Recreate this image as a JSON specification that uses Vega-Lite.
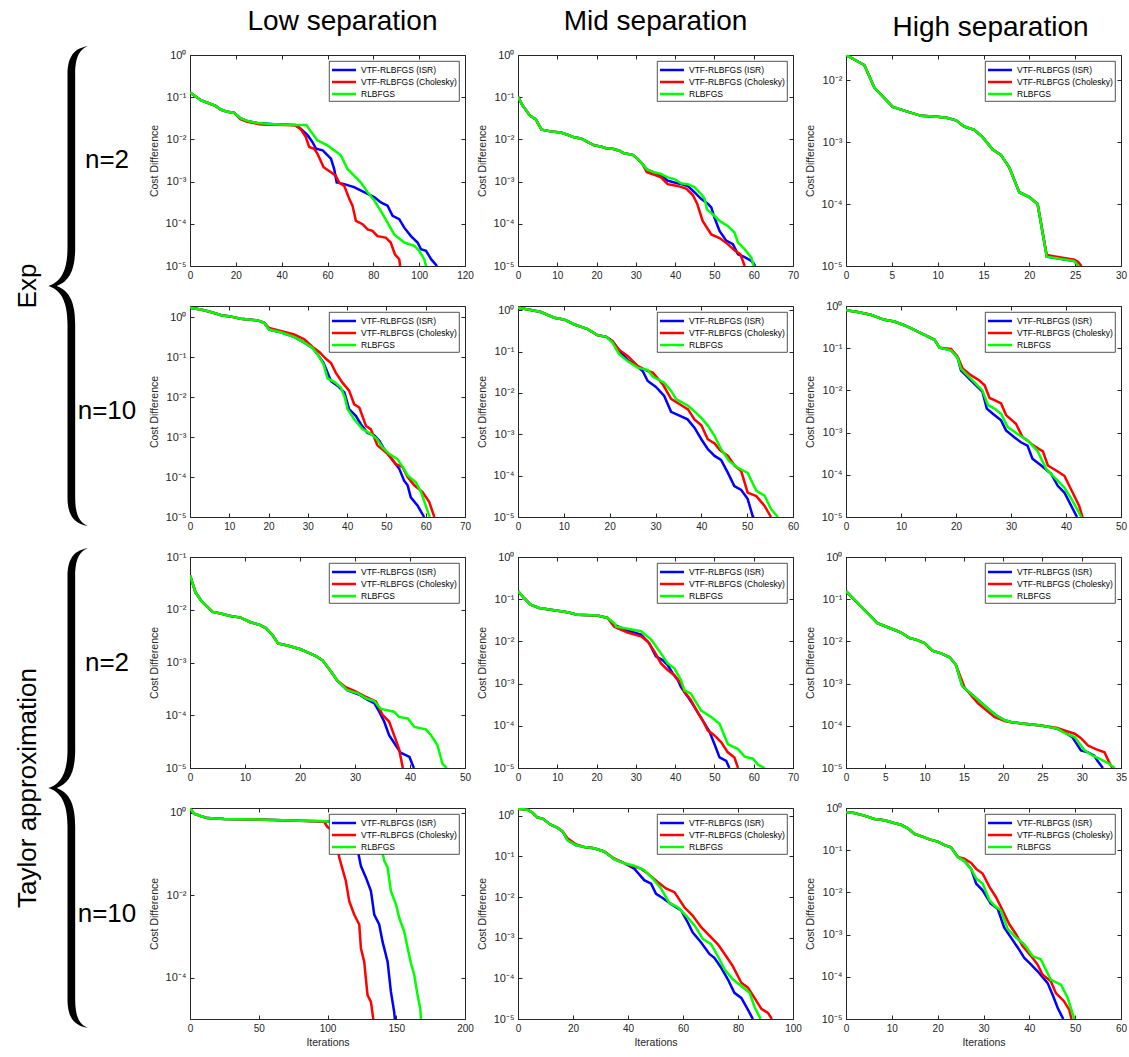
{
"$schema": "https://vega.github.io/schema/vega-lite/v6.json",
"padding": {"left": 0, "top": 7, "right": 4, "bottom": 4},
"spacing": 11,
"config": {
  "font": "Liberation Sans",
  "view": {"stroke": "#262626", "strokeWidth": 1},
  "axis": {"grid": false, "labelFont": "Liberation Sans", "labelFontSize": 10, "labelColor": "#262626", "domainColor": "#262626", "tickColor": "#262626", "tickSize": -4, "labelPadding": 8, "titleFont": "Liberation Sans", "titleFontSize": 10.5, "titleFontWeight": "normal", "titleColor": "#262626", "labelFlush": false, "labelOverlap": false},
  "axisY": {"titlePadding": 6, "labelFontSize": 11},
  "axisX": {"titlePadding": 4},
  "legend": {"orient": "top-right", "offset": 6, "padding": 2, "fillColor": "white", "strokeColor": "#262626", "strokeWidth": 0.8, "cornerRadius": 0, "symbolType": "M -1.09 0 L 3.27 0", "symbolStrokeWidth": 2.5, "symbolSize": 121, "labelFont": "Liberation Sans", "labelFontSize": 8.5, "labelColor": "#000000", "rowPadding": 0, "labelOffset": 16},
  "title": {"font": "Liberation Sans", "fontSize": 28, "fontWeight": "normal", "color": "#000000", "offset": 13}
},
"datasets": {
"labels": [
  {"kind": "row", "label": "n=2", "row": 0.5},
  {"kind": "row", "label": "n=10", "row": 1.5},
  {"kind": "row", "label": "n=2", "row": 2.5},
  {"kind": "row", "label": "n=10", "row": 3.5},
  {"kind": "group", "label": "Exp", "row": 1},
  {"kind": "group", "label": "Taylor approximation", "row": 3},
  {"kind": "brace", "label": "Exp", "row": 1},
  {"kind": "brace", "label": "Taylor approximation", "row": 3}
],
"r1c1": [
  {"m": "VTF-RLBFGS (ISR)", "it": [0,4.7,7.6,11.2,13.4,16.3,19.2,22,25,29.4,36.7,46,48.3,51.3,53.4,55,57.9,61.5,62.9,64,67.3,71.6,77.5,80.4,83.3,86.2,88.4,91.3,93.5,96.4,99.3,100.8,103,105.2,107.8],
   "v": [1.29e-1,8.5e-2,7.4e-2,6.2e-2,5.1e-2,4.5e-2,4.3e-2,3.2e-2,2.75e-2,2.45e-2,2.3e-2,2.2e-2,1.78e-2,1.26e-2,8.7e-3,6.0e-3,5.5e-3,3.5e-3,2.0e-3,9.5e-4,8.7e-4,7.4e-4,5.1e-4,4.3e-4,3.2e-4,2.7e-4,1.55e-4,1.29e-4,8.1e-5,5.1e-5,3.6e-5,2.5e-5,2.3e-5,1.45e-5,1e-5]},
  {"m": "VTF-RLBFGS (Cholesky)", "it": [0,4.7,7.6,11.2,13.4,16.3,19.2,22,25,30.9,46,48.3,50.5,52,54.2,55.6,58.3,61.5,63.6,65.1,67.3,69.5,70.9,72.4,75.3,77.5,79.6,81.8,85.4,87.6,89.4,91.3,91.7],
   "v": [1.29e-1,8.5e-2,7.4e-2,6.2e-2,5.1e-2,4.5e-2,4.3e-2,3.0e-2,2.6e-2,2.25e-2,2.15e-2,1.74e-2,1.15e-2,6.6e-3,6.0e-3,4.6e-3,2.2e-3,1.66e-3,1.38e-3,9.5e-4,7.9e-4,3.9e-4,2.7e-4,1.17e-4,9.8e-5,7.4e-5,6.8e-5,5.1e-5,4.7e-5,3.6e-5,1.9e-5,1.45e-5,1e-5]},
  {"m": "RLBFGS", "it": [0,4.7,7.6,11.2,13.4,16.3,19.2,22,25,29.4,36.7,44,50.8,52.7,55.6,60,62.9,65.8,68.7,71.6,74.6,77.5,80.4,83.3,86.2,89.1,93.5,97.9,100,102.2,103],
   "v": [1.29e-1,8.5e-2,7.4e-2,6.2e-2,5.1e-2,4.5e-2,4.3e-2,3.2e-2,2.75e-2,2.45e-2,2.3e-2,2.2e-2,2.2e-2,1.55e-2,9.5e-3,7.2e-3,5.5e-3,4.2e-3,2.0e-3,1.38e-3,9.5e-4,5.6e-4,3.55e-4,2.0e-4,1.07e-4,5.6e-5,3.6e-5,3.0e-5,2.3e-5,1.45e-5,1e-5]}
],
"r1c2": [
  {"m": "VTF-RLBFGS (ISR)", "it": [0,1.1,3.1,4.5,6,8.3,10.9,12.6,14.3,16,17.7,19.4,21.1,22.4,24.1,25.8,27,29.2,30.4,31.7,32.8,34.7,36.4,38.1,39.8,41.5,43.2,44.9,46.6,48.3,49.2,50,51.3,53,54.7,56,57.7,59.4,60.4],
   "v": [1.02e-1,6.5e-2,3.6e-2,3.0e-2,1.7e-2,1.55e-2,1.45e-2,1.29e-2,1.12e-2,1.05e-2,8.7e-3,7.2e-3,6.8e-3,6.2e-3,6.0e-3,5.4e-3,4.7e-3,4.3e-3,3.5e-3,2.6e-3,1.95e-3,1.62e-3,1.38e-3,1.05e-3,9.5e-4,8.7e-4,7.9e-4,5.6e-4,3.9e-4,3.0e-4,2.45e-4,1.41e-4,6.8e-5,4.0e-5,3.3e-5,1.9e-5,1.62e-5,1.32e-5,1e-5]},
  {"m": "VTF-RLBFGS (Cholesky)", "it": [0,1.1,3.1,4.5,6,8.3,10.9,12.6,14.3,16,17.7,19.4,21.1,22.4,24.1,25.8,27,29.2,30.4,31.7,32.8,34.7,36.4,38.1,40.6,42.8,44.5,45.6,47,49.2,51.3,53.4,55.1,56.6,57.7],
   "v": [1.02e-1,6.5e-2,3.6e-2,3.0e-2,1.7e-2,1.55e-2,1.45e-2,1.29e-2,1.12e-2,1.05e-2,8.7e-3,7.2e-3,6.8e-3,6.2e-3,6.0e-3,5.4e-3,4.7e-3,4.3e-3,3.5e-3,2.6e-3,1.66e-3,1.45e-3,1.26e-3,8.7e-4,7.9e-4,6.8e-4,4.8e-4,3.0e-4,1.17e-4,5.6e-5,4.6e-5,3.3e-5,2.35e-5,1.9e-5,1e-5]},
  {"m": "RLBFGS", "it": [0,1.1,3.1,4.5,6,8.3,10.9,12.6,14.3,16,17.7,19.4,21.1,22.4,24.1,25.8,27,29.2,30.4,31.7,32.8,34.7,36.4,38.1,39.8,41.5,43.2,44.9,46.6,47.5,48.1,50,51.3,53.4,55.1,56,57.7,59.4,60],
   "v": [1.02e-1,6.5e-2,3.6e-2,3.0e-2,1.7e-2,1.55e-2,1.45e-2,1.29e-2,1.12e-2,1.05e-2,8.7e-3,7.2e-3,6.8e-3,6.2e-3,6.0e-3,5.4e-3,4.7e-3,4.3e-3,3.5e-3,2.6e-3,1.95e-3,1.66e-3,1.51e-3,1.26e-3,1.15e-3,9.1e-4,8.7e-4,7.4e-4,5.1e-4,3.9e-4,2.2e-4,1.55e-4,1.17e-4,8.9e-5,6.2e-5,3.6e-5,2.5e-5,1.58e-5,1e-5]}
],
"r1c3": [
  {"m": "VTF-RLBFGS (ISR)", "it": [0,2,3.1,5.1,6.7,8.2,10,11.1,12,12.9,14,14.9,16,16.9,17.8,18.9,20,20.9,21.9,24.9,25.4],
   "v": [2.54e-2,1.75e-2,7.5e-3,3.7e-3,3.1e-3,2.65e-3,2.57e-3,2.45e-3,2.24e-3,1.78e-3,1.58e-3,1.2e-3,7.6e-4,6.2e-4,3.9e-4,1.55e-4,1.29e-4,1.0e-4,1.41e-5,1.2e-5,1e-5]},
  {"m": "VTF-RLBFGS (Cholesky)", "it": [0,2,3.1,5.1,6.7,8.2,10,11.1,12,12.9,14,14.9,16,16.9,17.8,18.9,20,20.9,21.9,24.9,25.3,25.7],
   "v": [2.54e-2,1.75e-2,7.5e-3,3.7e-3,3.1e-3,2.65e-3,2.57e-3,2.45e-3,2.24e-3,1.78e-3,1.58e-3,1.2e-3,7.6e-4,6.2e-4,3.9e-4,1.55e-4,1.29e-4,1.0e-4,1.5e-5,1.26e-5,1.17e-5,1e-5]},
  {"m": "RLBFGS", "it": [0,2,3.1,5.1,6.7,8.2,10,11.1,12,12.9,14,14.9,16,16.9,17.8,18.9,20,20.9,21.9,24.9,25.4],
   "v": [2.54e-2,1.75e-2,7.5e-3,3.7e-3,3.1e-3,2.65e-3,2.57e-3,2.45e-3,2.24e-3,1.78e-3,1.58e-3,1.2e-3,7.6e-4,6.2e-4,3.9e-4,1.55e-4,1.29e-4,1.0e-4,1.41e-5,1.2e-5,1e-5]}
],
"r2c1": [
  {"m": "VTF-RLBFGS (ISR)", "it": [0,2.7,5.3,8.2,9.9,12.9,17.2,18.9,20.1,23.1,26.5,29.1,31.2,32.5,34,35,35.9,37.6,39.3,40.5,42.2,43.5,45.2,46.9,48.2,49.4,50.7,52,53.3,54.5,55.4,56.2,57.9,59.6],
   "v": [1.71,1.55,1.35,1.1,1.06,0.91,0.83,0.72,0.49,0.42,0.32,0.23,0.17,0.117,7.2e-2,4.1e-2,2.5e-2,1.9e-2,1.3e-2,5.0e-3,3.4e-3,2.1e-3,1.26e-3,1.1e-3,8.1e-4,5.0e-4,3.5e-4,2.35e-4,1.58e-4,8.1e-5,6.2e-5,3.1e-5,1.95e-5,1e-5]},
  {"m": "VTF-RLBFGS (Cholesky)", "it": [0,2.7,5.3,8.2,9.9,12.9,17.2,18.9,20.1,23.1,26.5,29.1,31.2,32.9,34.6,35.9,37.1,38.8,40.5,41.8,43.1,44.8,46,47.7,50.3,52.4,54.1,55.4,57.1,59.2,60.9,62.2],
   "v": [1.71,1.55,1.35,1.1,1.06,0.91,0.83,0.72,0.54,0.45,0.37,0.28,0.18,0.135,9.1e-2,7.1e-2,4.1e-2,2.3e-2,1.45e-2,6.6e-3,5.5e-3,1.9e-3,1.58e-3,6.2e-4,3.8e-4,2.1e-4,1.78e-4,1.0e-4,6.2e-5,4.2e-5,2.35e-5,1e-5]},
  {"m": "RLBFGS", "it": [0,2.7,5.3,8.2,9.9,12.9,17.2,18.9,20.1,23.1,26.5,29.1,31.2,32.5,34,35,36.7,38.4,39.4,40.1,41.8,43.9,46,47.6,49,50.7,52.8,54.5,55.4,57.5,58.8,60,61],
   "v": [1.71,1.55,1.35,1.1,1.06,0.91,0.83,0.72,0.49,0.42,0.32,0.23,0.17,0.117,6.6e-2,2.95e-2,2.4e-2,1.74e-2,9.8e-3,5.0e-3,2.8e-3,1.58e-3,1.2e-3,8.9e-4,5.5e-4,3.8e-4,2.8e-4,1.58e-4,1.1e-4,7.4e-5,4.2e-5,1.95e-5,1e-5]}
],
"r2c2": [
  {"m": "VTF-RLBFGS (ISR)", "it": [0,2.8,5,7.9,10,12.2,15.2,17.3,19.2,20.6,22.1,23.9,26.1,27.2,28.3,30.1,31.9,33.4,35.6,37,38.5,40,41.4,42.9,44.3,45.8,47.2,48.7,50.1,51.2,51.5],
   "v": [1.16,1.02,0.91,0.66,0.60,0.46,0.35,0.25,0.23,0.18,0.105,6.3e-2,4.3e-2,3.4e-2,1.95e-2,1.4e-2,8.5e-3,3.5e-3,2.7e-3,2.3e-3,1.45e-3,7.6e-4,4.4e-4,3.0e-4,2.4e-4,1.17e-4,5.6e-5,4.5e-5,2.75e-5,1.05e-5,1e-5]},
  {"m": "VTF-RLBFGS (Cholesky)", "it": [0,2.8,5,7.9,10,12.2,15.2,17.3,19.2,20.6,22.1,23.9,26.1,28.3,29.4,31.6,33.4,35.2,37.1,38.5,40,41.4,42.9,44,45.8,47.2,48.7,50.1,52,53.8,55.2],
   "v": [1.16,1.02,0.91,0.66,0.60,0.46,0.35,0.25,0.23,0.18,0.11,7.9e-2,4.5e-2,3.4e-2,3.1e-2,1.62e-2,7.2e-3,5.4e-3,4.0e-3,2.3e-3,1.66e-3,7.6e-4,6.0e-4,4.2e-4,3.0e-4,1.78e-4,1.29e-4,3.9e-5,3.2e-5,1.86e-5,1e-5]},
  {"m": "RLBFGS", "it": [0,2.8,5,7.9,10,12.2,15.2,17.3,19.2,20.6,22.1,23.9,26.1,28.3,29.4,31.9,33.4,34.5,37.1,38.5,40,41.5,42.9,44.3,46.1,48,50.1,52,53.8,55.2,56.7],
   "v": [1.16,1.02,0.91,0.66,0.60,0.46,0.35,0.25,0.23,0.166,8.7e-2,5.9e-2,4.1e-2,3.6e-2,2.5e-2,1.78e-2,1.12e-2,7.1e-3,4.9e-3,3.6e-3,2.5e-3,1.58e-3,9.1e-4,4.4e-4,2.24e-4,1.55e-4,1.17e-4,4.3e-5,3.3e-5,1.55e-5,1e-5]}
],
"r2c3": [
  {"m": "VTF-RLBFGS (ISR)", "it": [0,2.1,4.5,7,8.8,10.6,12.4,14.2,16.1,17,19.1,20.3,20.9,22.7,24.8,25.6,26.7,28.2,29.1,30.6,31.8,33,33.9,35.5,36.4,37.3,38.5,39.7,42],
   "v": [0.79,0.72,0.62,0.47,0.43,0.35,0.27,0.21,0.158,0.103,8.9e-2,6.0e-2,3.0e-2,1.74e-2,9.3e-3,3.7e-3,2.8e-3,1.95e-3,1.12e-3,7.8e-4,5.9e-4,4.9e-4,2.4e-4,1.66e-4,1.32e-4,1.05e-4,5.5e-5,3.8e-5,1e-5]},
  {"m": "VTF-RLBFGS (Cholesky)", "it": [0,2.1,4.5,7,8.8,10.6,12.4,14.2,16.1,17,19.1,20.3,21.2,22.7,24.2,25.2,26.1,27,28.2,29.1,30.9,32.1,33,33.9,35.8,36.7,38.5,39.7,41.2,42.4,43],
   "v": [0.79,0.72,0.62,0.47,0.43,0.35,0.27,0.21,0.158,0.103,9.6e-2,6.3e-2,3.3e-2,2.3e-2,1.74e-2,1.32e-2,6.6e-3,5.9e-3,4.9e-3,2.6e-3,1.62e-3,7.8e-4,6.5e-4,5.1e-4,3.6e-4,1.66e-4,1.2e-4,9.5e-5,3.8e-5,1.82e-5,1e-5]},
  {"m": "RLBFGS", "it": [0,2.1,4.5,7,8.8,10.6,12.4,14.2,16.1,17,19.1,20.3,20.9,22.7,24.8,25.8,27,28.2,29.4,31.2,33,34.8,36.4,37.9,39.7,41.2,42.8],
   "v": [0.79,0.72,0.62,0.47,0.43,0.35,0.27,0.21,0.158,0.103,8.9e-2,6.0e-2,3.3e-2,1.9e-2,1.0e-2,4.5e-3,3.7e-3,2.8e-3,1.35e-3,9.3e-4,6.5e-4,3.7e-4,1.38e-4,8.7e-5,5.0e-5,2.4e-5,1e-5]}
],
"r3c1": [
  {"m": "VTF-RLBFGS (ISR)", "it": [0,1,2.1,4.1,5.6,7.1,9.2,11,12.6,13.8,15,16,17.7,20.1,21.7,22.9,24.1,25.6,26.8,28.6,30.8,32.3,33.5,34.4,35.3,36.2,37.4,38.3,39.9,40.7],
   "v": [4.5e-2,2.14e-2,1.45e-2,9.1e-3,8.5e-3,7.7e-3,7.1e-3,5.8e-3,5.2e-3,4.5e-3,3.3e-3,2.3e-3,2.1e-3,1.78e-3,1.51e-3,1.32e-3,1.1e-3,6.8e-4,4.5e-4,3.0e-4,2.45e-4,1.95e-4,1.7e-4,1.17e-4,7.6e-5,4.2e-5,2.7e-5,1.95e-5,1.62e-5,1e-5]},
  {"m": "VTF-RLBFGS (Cholesky)", "it": [0,1,2.1,4.1,5.6,7.1,9.2,11,12.6,13.8,15,16,17.7,20.1,21.7,22.9,24.1,25.6,26.8,28.3,29.9,31.7,33.8,35,36.2,37.1,38,38.7],
   "v": [4.5e-2,2.14e-2,1.45e-2,9.1e-3,8.5e-3,7.7e-3,7.1e-3,5.8e-3,5.2e-3,4.5e-3,3.3e-3,2.3e-3,2.1e-3,1.78e-3,1.51e-3,1.32e-3,1.1e-3,6.8e-4,4.5e-4,3.4e-4,2.9e-4,2.3e-4,1.82e-4,1.02e-4,7.6e-5,4.2e-5,2.3e-5,1e-5]},
  {"m": "RLBFGS", "it": [0,1,2.1,4.1,5.6,7.1,9.2,11,12.6,13.8,15,16,17.7,20.1,21.7,22.9,24.1,25.6,26.8,28.6,30.5,32,33.5,34.7,37.1,38,39.6,40.8,42.9,43.8,45,45.9,46.7],
   "v": [4.5e-2,2.14e-2,1.45e-2,9.1e-3,8.5e-3,7.7e-3,7.1e-3,5.8e-3,5.2e-3,4.5e-3,3.3e-3,2.3e-3,2.1e-3,1.78e-3,1.51e-3,1.32e-3,1.1e-3,6.8e-4,4.5e-4,3.0e-4,2.6e-4,2.1e-4,1.86e-4,1.32e-4,1.17e-4,9.3e-5,8.7e-5,6.0e-5,5.4e-5,4.2e-5,2.7e-5,1.2e-5,1e-5]}
],
"r3c2": [
  {"m": "VTF-RLBFGS (ISR)", "it": [0,1.5,3.2,5.4,9.2,12.6,15.1,20.2,22.8,24.5,27.9,31.3,33.4,35.1,36.8,38.1,39.4,40.7,41.5,43.2,44.9,47,48.7,50,51.3,53,53.8],
   "v": [0.155,0.107,7.4e-2,6.2e-2,5.5e-2,4.9e-2,4.3e-2,4.1e-2,3.6e-2,2.45e-2,1.82e-2,1.45e-2,9.1e-3,4.4e-3,3.6e-3,2.75e-3,1.74e-3,1.2e-3,8.3e-4,4.9e-4,2.8e-4,1.35e-4,7.4e-5,3.7e-5,1.78e-5,1.48e-5,1e-5]},
  {"m": "VTF-RLBFGS (Cholesky)", "it": [0,1.5,3.2,5.4,9.2,12.6,15.1,20.2,22.8,24.5,27.9,31.3,33,34.7,36.4,38.1,39.8,41.5,42.4,44,45.7,47,48.3,50,51.7,53.4,55.1,56],
   "v": [0.155,0.107,7.4e-2,6.2e-2,5.5e-2,4.9e-2,4.3e-2,4.1e-2,3.6e-2,2.24e-2,1.62e-2,1.32e-2,1.0e-2,5.8e-3,3.0e-3,2.1e-3,1.58e-3,1.0e-3,6.3e-4,4.1e-4,2.1e-4,1.35e-4,7.8e-5,5.9e-5,4.1e-5,2.35e-5,1.78e-5,1e-5]},
  {"m": "RLBFGS", "it": [0,1.5,3.2,5.4,9.2,12.6,15.1,20.2,22.8,24.5,25,27.9,31.3,33.9,36.4,38.1,39.8,41.5,42.4,44,46.6,49.2,51.3,53.4,56,57.7,59.8,61.1,62.8],
   "v": [0.155,0.107,7.4e-2,6.2e-2,5.5e-2,4.9e-2,4.3e-2,4.1e-2,3.6e-2,2.7e-2,2.24e-2,2.0e-2,1.74e-2,1.1e-2,5.2e-3,3.0e-3,2.3e-3,1.2e-3,6.9e-4,5.8e-4,2.3e-4,1.62e-4,1.12e-4,3.7e-5,2.8e-5,1.86e-5,1.66e-5,1.2e-5,1e-5]}
],
"r3c3": [
  {"m": "VTF-RLBFGS (ISR)", "it": [0,1.9,4,6.2,7,8.1,8.9,10,11,12.1,13.2,14,14.8,15.9,16.8,18,19.1,20.2,21,22.7,24.8,25.9,26.9,27.8,28.8,29.9,30.8,31.6,32,32.7],
   "v": [0.155,6.8e-2,2.7e-2,1.86e-2,1.62e-2,1.2e-2,1.1e-2,9.1e-3,6.0e-3,5.2e-3,4.2e-3,2.75e-3,8.7e-4,5.8e-4,4.1e-4,2.6e-4,1.78e-4,1.35e-4,1.23e-4,1.12e-4,1.02e-4,9.3e-5,8.5e-5,7.1e-5,5.4e-5,2.6e-5,2.35e-5,1.95e-5,1.48e-5,1e-5]},
  {"m": "VTF-RLBFGS (Cholesky)", "it": [0,1.9,4,6.2,7,8.1,8.9,10,11,12.1,13.2,14,15.1,16.8,18.9,20.2,21,22.7,24.8,25.9,26.9,27.8,29.1,29.9,30.8,31.8,32.9,33.4,33.9],
   "v": [0.155,6.8e-2,2.7e-2,1.86e-2,1.62e-2,1.2e-2,1.1e-2,9.1e-3,6.0e-3,5.2e-3,4.2e-3,2.75e-3,8.0e-4,3.4e-4,1.62e-4,1.3e-4,1.22e-4,1.12e-4,1.02e-4,9.5e-5,8.9e-5,7.8e-5,6.5e-5,5.1e-5,3.4e-5,2.8e-5,2.35e-5,1.48e-5,1e-5]},
  {"m": "RLBFGS", "it": [0,1.9,4,6.2,7,8.1,8.9,10,11,12.1,13.2,14,14.8,15.9,16.8,18,19.1,20.2,21,22.7,24.8,25.9,26.9,27.8,29.1,30.3,31.4,32.5,33.5,34.2],
   "v": [0.155,6.8e-2,2.7e-2,1.86e-2,1.62e-2,1.2e-2,1.1e-2,9.1e-3,6.0e-3,5.2e-3,4.2e-3,2.75e-3,8.7e-4,5.8e-4,4.1e-4,2.6e-4,1.78e-4,1.35e-4,1.23e-4,1.12e-4,1.02e-4,9.3e-5,8.5e-5,6.8e-5,5.4e-5,2.7e-5,1.95e-5,1.58e-5,1.26e-5,1e-5]}
],
"r4c1": [
  {"m": "VTF-RLBFGS (ISR)", "it": [0,2.9,7.8,12.6,24.8,49,73.3,97.6,114.6,118,121.8,124.3,127.9,131.6,134,137.6,140,143.7,146.1,148.5,149],
   "v": [1.26,0.95,0.83,0.74,0.70,0.68,0.65,0.62,0.58,0.5,0.132,5.1e-2,2.7e-2,1.26e-2,3.4e-3,1.95e-3,7.6e-4,2.45e-4,4.6e-5,1.48e-5,1e-5]},
  {"m": "VTF-RLBFGS (Cholesky)", "it": [0,2.9,7.8,12.6,24.8,49,73.3,97.6,100,103.6,106,108.5,110.9,113.3,115.8,119.4,123.1,124.3,126.7,129.1,131.6,133.3],
   "v": [1.26,0.95,0.83,0.74,0.70,0.68,0.65,0.60,0.45,0.37,0.28,8.3e-2,4.3e-2,2.24e-2,7.2e-3,3.4e-3,1.95e-3,5.2e-4,2.45e-4,3.8e-5,2.6e-5,1e-5]},
  {"m": "RLBFGS", "it": [0,2.9,7.8,12.6,24.8,49,73.3,97.6,121.8,133.9,137,139.3,141.3,143.7,146.1,149.8,152.2,155.8,158.3,160.7,163.1,165.5,167.5,168],
   "v": [1.26,0.95,0.83,0.74,0.70,0.68,0.65,0.62,0.58,0.56,0.3,0.132,6.8e-2,4.7e-2,1.26e-2,6.0e-3,2.8e-3,1.32e-3,5.2e-4,2.24e-4,1.17e-4,3.8e-5,1.78e-5,1e-5]}
],
"r4c2": [
  {"m": "VTF-RLBFGS (ISR)", "it": [0,3.4,5.2,7,8.9,11.9,14.3,16.2,18,21,24.1,27.7,31.3,35,38.6,42.3,45.9,48.4,50.2,52.6,55.6,59.3,61.7,63.5,66.6,69.6,71.4,73.9,76.3,78.7,81.2,83.6,85.4],
   "v": [1.48,1.41,1.2,0.91,0.85,0.60,0.51,0.41,0.25,0.19,0.17,0.158,0.132,8.5e-2,6.8e-2,5.0e-2,2.6e-2,2.14e-2,1.2e-2,9.5e-3,6.8e-3,4.7e-3,2.4e-3,1.35e-3,7.6e-4,4.0e-4,3.2e-4,1.82e-4,9.5e-5,4.4e-5,3.3e-5,1.7e-5,1e-5]},
  {"m": "VTF-RLBFGS (Cholesky)", "it": [0,3.4,5.2,7,8.9,11.9,14.3,16.2,18,21,24.1,27.7,31.3,35,39.8,44.7,47.1,50.8,53.8,56.9,60.5,63.5,66.6,69.6,72.7,75.7,78.1,81.2,83.6,86,88.5,90.9,92.3],
   "v": [1.48,1.41,1.2,0.91,0.85,0.60,0.51,0.41,0.28,0.20,0.17,0.158,0.132,8.9e-2,6.3e-2,5.0e-2,3.8e-2,2.35e-2,1.62e-2,1.32e-2,5.6e-3,3.5e-3,1.82e-3,1.12e-3,6.9e-4,3.5e-4,2.0e-4,7.8e-5,5.9e-5,3.3e-5,1.78e-5,1.41e-5,1e-5]},
  {"m": "RLBFGS", "it": [0,3.4,5.2,7,8.9,11.9,14.3,16.2,18,21,24.1,27.7,31.3,35,38.6,42.3,45.9,49,52,55,58.1,61.1,64.2,67.2,70.2,72.7,75.1,78.1,81.2,84.2,86,88.2],
   "v": [1.48,1.41,1.2,0.91,0.85,0.60,0.51,0.41,0.25,0.19,0.17,0.158,0.132,8.5e-2,6.8e-2,5.9e-2,4.6e-2,2.85e-2,1.62e-2,7.2e-3,5.6e-3,3.5e-3,2.0e-3,9.3e-4,6.9e-4,3.5e-4,1.66e-4,9.5e-5,6.5e-5,4.4e-5,2.0e-5,1e-5]}
],
"r4c3": [
  {"m": "VTF-RLBFGS (ISR)", "it": [0,1.8,4,6.2,8.4,10.5,12,13.5,14.9,16.7,18.2,20,21.5,22.9,24.4,25.8,27.3,28.4,29.8,31.6,33.1,34.5,36,37.5,38.9,40.4,41.8,44,45.1,46.2,47.4],
   "v": [0.79,0.76,0.66,0.55,0.51,0.44,0.40,0.33,0.245,0.21,0.18,0.16,0.132,0.117,6.9e-2,5.6e-2,3.6e-2,1.62e-2,1.12e-2,5.4e-3,4.1e-3,1.48e-3,8.5e-4,4.9e-4,2.8e-4,1.95e-4,1.35e-4,7.1e-5,3.7e-5,1.82e-5,1e-5]},
  {"m": "VTF-RLBFGS (Cholesky)", "it": [0,1.8,4,6.2,8.4,10.5,12,13.5,14.9,16.7,18.2,20,21.5,22.9,24.4,25.8,27.3,28.4,29.8,31.3,32.7,34.2,35.6,37.1,38.5,40.4,41.8,42.9,44.7,45.8,47.6,48.7,49.2],
   "v": [0.79,0.76,0.66,0.55,0.51,0.44,0.40,0.33,0.245,0.21,0.18,0.16,0.132,0.117,6.9e-2,6.3e-2,5.0e-2,3.6e-2,2.8e-2,1.35e-2,7.8e-3,3.7e-3,1.78e-3,1.02e-3,5.4e-4,3.1e-4,1.95e-4,1.12e-4,7.8e-5,4.1e-5,2.6e-5,1.66e-5,1e-5]},
  {"m": "RLBFGS", "it": [0,1.8,4,6.2,8.4,10.5,12,13.5,14.9,16.7,18.2,20,21.5,22.9,24.4,25.8,27.3,28.4,29.8,31.3,32.4,33.8,35.3,37.1,38.9,40.7,42.5,43.6,44.7,46.9,48.4,49.8],
   "v": [0.79,0.76,0.66,0.55,0.51,0.44,0.40,0.33,0.245,0.21,0.18,0.16,0.132,0.117,6.9e-2,5.6e-2,3.6e-2,2.14e-2,1.62e-2,6.6e-3,4.9e-3,3.7e-3,1.35e-3,8.5e-4,5.9e-4,3.1e-4,2.6e-4,1.48e-4,8.5e-5,6.5e-5,3.1e-5,1e-5]}
]
},
"hconcat": [
  {
    "width": 135, "height": 964,
    "view": {"stroke": null},
    "data": {"name": "labels"},
    "encoding": {
      "x": {"field": "kind", "type": "nominal", "scale": {"type": "point", "domain": ["group", "brace", "row"], "padding": 0.71}, "axis": null},
      "y": {"field": "row", "type": "quantitative", "scale": {"domain": [0.0797, 3.9203], "reverse": true, "nice": false, "zero": false}, "axis": null}
    },
    "layer": [
      {"transform": [{"filter": "datum.kind == 'row'"}], "mark": {"type": "text", "font": "Liberation Sans", "fontSize": 26, "align": "center", "baseline": "middle", "color": "#000000"}, "encoding": {"text": {"field": "label"}}},
      {"transform": [{"filter": "datum.kind == 'group'"}], "mark": {"type": "text", "font": "Liberation Sans", "fontSize": 26, "angle": 270, "align": "center", "baseline": "middle", "color": "#000000"}, "encoding": {"text": {"field": "label"}}},
      {"transform": [{"filter": "datum.kind == 'brace'"}], "mark": {"type": "point", "filled": true, "color": "#000000", "opacity": 1, "strokeWidth": 0, "size": 230400, "shape": "M 0.085 -1 C 0.03 -0.99 0 -0.96 0 -0.88 L 0 -0.16 C 0 -0.06 -0.03 -0.015 -0.08 0 C -0.03 0.015 0 0.06 0 0.16 L 0 0.88 C 0 0.96 0.03 0.99 0.085 1 C 0.05 0.985 0.032 0.955 0.032 0.88 L 0.032 0.16 C 0.032 0.07 0.01 0.02 -0.045 0 C 0.01 -0.02 0.032 -0.07 0.032 -0.16 L 0.032 -0.88 C 0.032 -0.955 0.05 -0.985 0.085 -1 Z"}}
    ]
  },
  {
    "columns": 3,
    "spacing": {"row": 40, "column": 53},
    "bounds": "flush",
    "resolve": {"scale": {"x": "independent", "y": "independent", "color": "independent"}, "legend": {"color": "independent"}},
    "concat": [
      {"width": 275, "height": 211, "title": {"text": "Low separation", "dx": 15}, "data": {"name": "r1c1"}, "transform": [{"flatten": ["it", "v"]}],
       "resolve": {"axis": {"x": "independent", "y": "independent"}},
       "layer": [
        {"mark": {"type": "line", "strokeWidth": 2.5, "clip": true},
         "encoding": {
           "x": {"field": "it", "type": "quantitative", "scale": {"domain": [0, 120], "nice": false, "zero": false}, "axis": {"values": [0,20,40,60,80,100,120], "title": null}},
           "y": {"field": "v", "type": "quantitative", "scale": {"type": "log", "domain": [1e-5, 1], "nice": false}, "axis": {"values": [1e-5,1e-4,1e-3,1e-2,1e-1,1], "title": "Cost Difference", "labelExpr": "'10' + replace(replace(replace(replace(replace(replace(replace(toString(round(log(datum.value)/LN10)),'-','⁻'),'0','⁰'),'1','¹'),'2','²'),'3','³'),'4','⁴'),'5','⁵')"}},
           "color": {"field": "m", "type": "nominal", "scale": {"domain": ["VTF-RLBFGS (ISR)", "VTF-RLBFGS (Cholesky)", "RLBFGS"], "range": ["#0000ff", "#ff0000", "#00ff00"]}, "legend": {"title": null}}
         }},
        {"mark": {"type": "line", "opacity": 0, "clip": true},
         "encoding": {
           "x": {"field": "it", "type": "quantitative", "scale": {"domain": [0, 120], "nice": false, "zero": false}, "axis": {"orient": "top", "values": [0,20,40,60,80,100,120], "labels": false, "domain": false, "title": null}},
           "y": {"field": "v", "type": "quantitative", "scale": {"type": "log", "domain": [1e-5, 1], "nice": false}, "axis": {"orient": "right", "values": [1e-5,1e-4,1e-3,1e-2,1e-1,1], "labels": false, "domain": false, "title": null}}
         }}
       ]},
      {"width": 275, "height": 211, "title": {"text": "Mid separation"}, "data": {"name": "r1c2"}, "transform": [{"flatten": ["it", "v"]}],
       "resolve": {"axis": {"x": "independent", "y": "independent"}},
       "layer": [
        {"mark": {"type": "line", "strokeWidth": 2.5, "clip": true},
         "encoding": {
           "x": {"field": "it", "type": "quantitative", "scale": {"domain": [0, 70], "nice": false, "zero": false}, "axis": {"values": [0,10,20,30,40,50,60,70], "title": null}},
           "y": {"field": "v", "type": "quantitative", "scale": {"type": "log", "domain": [1e-5, 1], "nice": false}, "axis": {"values": [1e-5,1e-4,1e-3,1e-2,1e-1,1], "title": "Cost Difference", "labelExpr": "'10' + replace(replace(replace(replace(replace(replace(replace(toString(round(log(datum.value)/LN10)),'-','⁻'),'0','⁰'),'1','¹'),'2','²'),'3','³'),'4','⁴'),'5','⁵')"}},
           "color": {"field": "m", "type": "nominal", "scale": {"domain": ["VTF-RLBFGS (ISR)", "VTF-RLBFGS (Cholesky)", "RLBFGS"], "range": ["#0000ff", "#ff0000", "#00ff00"]}, "legend": {"title": null}}
         }},
        {"mark": {"type": "line", "opacity": 0, "clip": true},
         "encoding": {
           "x": {"field": "it", "type": "quantitative", "scale": {"domain": [0, 70], "nice": false, "zero": false}, "axis": {"orient": "top", "values": [0,10,20,30,40,50,60,70], "labels": false, "domain": false, "title": null}},
           "y": {"field": "v", "type": "quantitative", "scale": {"type": "log", "domain": [1e-5, 1], "nice": false}, "axis": {"orient": "right", "values": [1e-5,1e-4,1e-3,1e-2,1e-1,1], "labels": false, "domain": false, "title": null}}
         }}
       ]},
      {"width": 275, "height": 211, "title": {"text": "High separation", "dx": 7}, "data": {"name": "r1c3"}, "transform": [{"flatten": ["it", "v"]}],
       "resolve": {"axis": {"x": "independent", "y": "independent"}},
       "layer": [
        {"mark": {"type": "line", "strokeWidth": 2.5, "clip": true},
         "encoding": {
           "x": {"field": "it", "type": "quantitative", "scale": {"domain": [0, 30], "nice": false, "zero": false}, "axis": {"values": [0,5,10,15,20,25,30], "title": null}},
           "y": {"field": "v", "type": "quantitative", "scale": {"type": "log", "domain": [1e-5, 0.0254], "nice": false}, "axis": {"values": [1e-5,1e-4,1e-3,1e-2], "title": "Cost Difference", "labelExpr": "'10' + replace(replace(replace(replace(replace(replace(replace(toString(round(log(datum.value)/LN10)),'-','⁻'),'0','⁰'),'1','¹'),'2','²'),'3','³'),'4','⁴'),'5','⁵')"}},
           "color": {"field": "m", "type": "nominal", "scale": {"domain": ["VTF-RLBFGS (ISR)", "VTF-RLBFGS (Cholesky)", "RLBFGS"], "range": ["#0000ff", "#ff0000", "#00ff00"]}, "legend": {"title": null}}
         }},
        {"mark": {"type": "line", "opacity": 0, "clip": true},
         "encoding": {
           "x": {"field": "it", "type": "quantitative", "scale": {"domain": [0, 30], "nice": false, "zero": false}, "axis": {"orient": "top", "values": [0,5,10,15,20,25,30], "labels": false, "domain": false, "title": null}},
           "y": {"field": "v", "type": "quantitative", "scale": {"type": "log", "domain": [1e-5, 0.0254], "nice": false}, "axis": {"orient": "right", "values": [1e-5,1e-4,1e-3,1e-2], "labels": false, "domain": false, "title": null}}
         }}
       ]},
      {"width": 275, "height": 211, "data": {"name": "r2c1"}, "transform": [{"flatten": ["it", "v"]}],
       "resolve": {"axis": {"x": "independent", "y": "independent"}},
       "layer": [
        {"mark": {"type": "line", "strokeWidth": 2.5, "clip": true},
         "encoding": {
           "x": {"field": "it", "type": "quantitative", "scale": {"domain": [0, 70], "nice": false, "zero": false}, "axis": {"values": [0,10,20,30,40,50,60,70], "title": null}},
           "y": {"field": "v", "type": "quantitative", "scale": {"type": "log", "domain": [1e-5, 1.9], "nice": false}, "axis": {"values": [1e-5,1e-4,1e-3,1e-2,1e-1,1], "title": "Cost Difference", "labelExpr": "'10' + replace(replace(replace(replace(replace(replace(replace(toString(round(log(datum.value)/LN10)),'-','⁻'),'0','⁰'),'1','¹'),'2','²'),'3','³'),'4','⁴'),'5','⁵')"}},
           "color": {"field": "m", "type": "nominal", "scale": {"domain": ["VTF-RLBFGS (ISR)", "VTF-RLBFGS (Cholesky)", "RLBFGS"], "range": ["#0000ff", "#ff0000", "#00ff00"]}, "legend": {"title": null}}
         }},
        {"mark": {"type": "line", "opacity": 0, "clip": true},
         "encoding": {
           "x": {"field": "it", "type": "quantitative", "scale": {"domain": [0, 70], "nice": false, "zero": false}, "axis": {"orient": "top", "values": [0,10,20,30,40,50,60,70], "labels": false, "domain": false, "title": null}},
           "y": {"field": "v", "type": "quantitative", "scale": {"type": "log", "domain": [1e-5, 1.9], "nice": false}, "axis": {"orient": "right", "values": [1e-5,1e-4,1e-3,1e-2,1e-1,1], "labels": false, "domain": false, "title": null}}
         }}
       ]},
      {"width": 275, "height": 211, "data": {"name": "r2c2"}, "transform": [{"flatten": ["it", "v"]}],
       "resolve": {"axis": {"x": "independent", "y": "independent"}},
       "layer": [
        {"mark": {"type": "line", "strokeWidth": 2.5, "clip": true},
         "encoding": {
           "x": {"field": "it", "type": "quantitative", "scale": {"domain": [0, 60], "nice": false, "zero": false}, "axis": {"values": [0,10,20,30,40,50,60], "title": null}},
           "y": {"field": "v", "type": "quantitative", "scale": {"type": "log", "domain": [1e-5, 1.27], "nice": false}, "axis": {"values": [1e-5,1e-4,1e-3,1e-2,1e-1,1], "title": "Cost Difference", "labelExpr": "'10' + replace(replace(replace(replace(replace(replace(replace(toString(round(log(datum.value)/LN10)),'-','⁻'),'0','⁰'),'1','¹'),'2','²'),'3','³'),'4','⁴'),'5','⁵')"}},
           "color": {"field": "m", "type": "nominal", "scale": {"domain": ["VTF-RLBFGS (ISR)", "VTF-RLBFGS (Cholesky)", "RLBFGS"], "range": ["#0000ff", "#ff0000", "#00ff00"]}, "legend": {"title": null}}
         }},
        {"mark": {"type": "line", "opacity": 0, "clip": true},
         "encoding": {
           "x": {"field": "it", "type": "quantitative", "scale": {"domain": [0, 60], "nice": false, "zero": false}, "axis": {"orient": "top", "values": [0,10,20,30,40,50,60], "labels": false, "domain": false, "title": null}},
           "y": {"field": "v", "type": "quantitative", "scale": {"type": "log", "domain": [1e-5, 1.27], "nice": false}, "axis": {"orient": "right", "values": [1e-5,1e-4,1e-3,1e-2,1e-1,1], "labels": false, "domain": false, "title": null}}
         }}
       ]},
      {"width": 275, "height": 211, "data": {"name": "r2c3"}, "transform": [{"flatten": ["it", "v"]}],
       "resolve": {"axis": {"x": "independent", "y": "independent"}},
       "layer": [
        {"mark": {"type": "line", "strokeWidth": 2.5, "clip": true},
         "encoding": {
           "x": {"field": "it", "type": "quantitative", "scale": {"domain": [0, 50], "nice": false, "zero": false}, "axis": {"values": [0,10,20,30,40,50], "title": null}},
           "y": {"field": "v", "type": "quantitative", "scale": {"type": "log", "domain": [1e-5, 1], "nice": false}, "axis": {"values": [1e-5,1e-4,1e-3,1e-2,1e-1,1], "title": "Cost Difference", "labelExpr": "'10' + replace(replace(replace(replace(replace(replace(replace(toString(round(log(datum.value)/LN10)),'-','⁻'),'0','⁰'),'1','¹'),'2','²'),'3','³'),'4','⁴'),'5','⁵')"}},
           "color": {"field": "m", "type": "nominal", "scale": {"domain": ["VTF-RLBFGS (ISR)", "VTF-RLBFGS (Cholesky)", "RLBFGS"], "range": ["#0000ff", "#ff0000", "#00ff00"]}, "legend": {"title": null}}
         }},
        {"mark": {"type": "line", "opacity": 0, "clip": true},
         "encoding": {
           "x": {"field": "it", "type": "quantitative", "scale": {"domain": [0, 50], "nice": false, "zero": false}, "axis": {"orient": "top", "values": [0,10,20,30,40,50], "labels": false, "domain": false, "title": null}},
           "y": {"field": "v", "type": "quantitative", "scale": {"type": "log", "domain": [1e-5, 1], "nice": false}, "axis": {"orient": "right", "values": [1e-5,1e-4,1e-3,1e-2,1e-1,1], "labels": false, "domain": false, "title": null}}
         }}
       ]},
      {"width": 275, "height": 211, "data": {"name": "r3c1"}, "transform": [{"flatten": ["it", "v"]}],
       "resolve": {"axis": {"x": "independent", "y": "independent"}},
       "layer": [
        {"mark": {"type": "line", "strokeWidth": 2.5, "clip": true},
         "encoding": {
           "x": {"field": "it", "type": "quantitative", "scale": {"domain": [0, 50], "nice": false, "zero": false}, "axis": {"values": [0,10,20,30,40,50], "title": null}},
           "y": {"field": "v", "type": "quantitative", "scale": {"type": "log", "domain": [1e-5, 0.1], "nice": false}, "axis": {"values": [1e-5,1e-4,1e-3,1e-2,1e-1], "title": "Cost Difference", "labelExpr": "'10' + replace(replace(replace(replace(replace(replace(replace(toString(round(log(datum.value)/LN10)),'-','⁻'),'0','⁰'),'1','¹'),'2','²'),'3','³'),'4','⁴'),'5','⁵')"}},
           "color": {"field": "m", "type": "nominal", "scale": {"domain": ["VTF-RLBFGS (ISR)", "VTF-RLBFGS (Cholesky)", "RLBFGS"], "range": ["#0000ff", "#ff0000", "#00ff00"]}, "legend": {"title": null}}
         }},
        {"mark": {"type": "line", "opacity": 0, "clip": true},
         "encoding": {
           "x": {"field": "it", "type": "quantitative", "scale": {"domain": [0, 50], "nice": false, "zero": false}, "axis": {"orient": "top", "values": [0,10,20,30,40,50], "labels": false, "domain": false, "title": null}},
           "y": {"field": "v", "type": "quantitative", "scale": {"type": "log", "domain": [1e-5, 0.1], "nice": false}, "axis": {"orient": "right", "values": [1e-5,1e-4,1e-3,1e-2,1e-1], "labels": false, "domain": false, "title": null}}
         }}
       ]},
      {"width": 275, "height": 211, "data": {"name": "r3c2"}, "transform": [{"flatten": ["it", "v"]}],
       "resolve": {"axis": {"x": "independent", "y": "independent"}},
       "layer": [
        {"mark": {"type": "line", "strokeWidth": 2.5, "clip": true},
         "encoding": {
           "x": {"field": "it", "type": "quantitative", "scale": {"domain": [0, 70], "nice": false, "zero": false}, "axis": {"values": [0,10,20,30,40,50,60,70], "title": null}},
           "y": {"field": "v", "type": "quantitative", "scale": {"type": "log", "domain": [1e-5, 1], "nice": false}, "axis": {"values": [1e-5,1e-4,1e-3,1e-2,1e-1,1], "title": "Cost Difference", "labelExpr": "'10' + replace(replace(replace(replace(replace(replace(replace(toString(round(log(datum.value)/LN10)),'-','⁻'),'0','⁰'),'1','¹'),'2','²'),'3','³'),'4','⁴'),'5','⁵')"}},
           "color": {"field": "m", "type": "nominal", "scale": {"domain": ["VTF-RLBFGS (ISR)", "VTF-RLBFGS (Cholesky)", "RLBFGS"], "range": ["#0000ff", "#ff0000", "#00ff00"]}, "legend": {"title": null}}
         }},
        {"mark": {"type": "line", "opacity": 0, "clip": true},
         "encoding": {
           "x": {"field": "it", "type": "quantitative", "scale": {"domain": [0, 70], "nice": false, "zero": false}, "axis": {"orient": "top", "values": [0,10,20,30,40,50,60,70], "labels": false, "domain": false, "title": null}},
           "y": {"field": "v", "type": "quantitative", "scale": {"type": "log", "domain": [1e-5, 1], "nice": false}, "axis": {"orient": "right", "values": [1e-5,1e-4,1e-3,1e-2,1e-1,1], "labels": false, "domain": false, "title": null}}
         }}
       ]},
      {"width": 275, "height": 211, "data": {"name": "r3c3"}, "transform": [{"flatten": ["it", "v"]}],
       "resolve": {"axis": {"x": "independent", "y": "independent"}},
       "layer": [
        {"mark": {"type": "line", "strokeWidth": 2.5, "clip": true},
         "encoding": {
           "x": {"field": "it", "type": "quantitative", "scale": {"domain": [0, 35], "nice": false, "zero": false}, "axis": {"values": [0,5,10,15,20,25,30,35], "title": null}},
           "y": {"field": "v", "type": "quantitative", "scale": {"type": "log", "domain": [1e-5, 1], "nice": false}, "axis": {"values": [1e-5,1e-4,1e-3,1e-2,1e-1,1], "title": "Cost Difference", "labelExpr": "'10' + replace(replace(replace(replace(replace(replace(replace(toString(round(log(datum.value)/LN10)),'-','⁻'),'0','⁰'),'1','¹'),'2','²'),'3','³'),'4','⁴'),'5','⁵')"}},
           "color": {"field": "m", "type": "nominal", "scale": {"domain": ["VTF-RLBFGS (ISR)", "VTF-RLBFGS (Cholesky)", "RLBFGS"], "range": ["#0000ff", "#ff0000", "#00ff00"]}, "legend": {"title": null}}
         }},
        {"mark": {"type": "line", "opacity": 0, "clip": true},
         "encoding": {
           "x": {"field": "it", "type": "quantitative", "scale": {"domain": [0, 35], "nice": false, "zero": false}, "axis": {"orient": "top", "values": [0,5,10,15,20,25,30,35], "labels": false, "domain": false, "title": null}},
           "y": {"field": "v", "type": "quantitative", "scale": {"type": "log", "domain": [1e-5, 1], "nice": false}, "axis": {"orient": "right", "values": [1e-5,1e-4,1e-3,1e-2,1e-1,1], "labels": false, "domain": false, "title": null}}
         }}
       ]},
      {"width": 275, "height": 211, "data": {"name": "r4c1"}, "transform": [{"flatten": ["it", "v"]}],
       "resolve": {"axis": {"x": "independent", "y": "independent"}},
       "layer": [
        {"mark": {"type": "line", "strokeWidth": 2.5, "clip": true},
         "encoding": {
           "x": {"field": "it", "type": "quantitative", "scale": {"domain": [0, 200], "nice": false, "zero": false}, "axis": {"values": [0,50,100,150,200], "title": "Iterations"}},
           "y": {"field": "v", "type": "quantitative", "scale": {"type": "log", "domain": [1e-5, 1.3], "nice": false}, "axis": {"values": [1e-4,1e-2,1], "title": "Cost Difference", "labelExpr": "'10' + replace(replace(replace(replace(replace(replace(replace(toString(round(log(datum.value)/LN10)),'-','⁻'),'0','⁰'),'1','¹'),'2','²'),'3','³'),'4','⁴'),'5','⁵')"}},
           "color": {"field": "m", "type": "nominal", "scale": {"domain": ["VTF-RLBFGS (ISR)", "VTF-RLBFGS (Cholesky)", "RLBFGS"], "range": ["#0000ff", "#ff0000", "#00ff00"]}, "legend": {"title": null}}
         }},
        {"mark": {"type": "line", "opacity": 0, "clip": true},
         "encoding": {
           "x": {"field": "it", "type": "quantitative", "scale": {"domain": [0, 200], "nice": false, "zero": false}, "axis": {"orient": "top", "values": [0,50,100,150,200], "labels": false, "domain": false, "title": null}},
           "y": {"field": "v", "type": "quantitative", "scale": {"type": "log", "domain": [1e-5, 1.3], "nice": false}, "axis": {"orient": "right", "values": [1e-4,1e-2,1], "labels": false, "domain": false, "title": null}}
         }}
       ]},
      {"width": 275, "height": 211, "data": {"name": "r4c2"}, "transform": [{"flatten": ["it", "v"]}],
       "resolve": {"axis": {"x": "independent", "y": "independent"}},
       "layer": [
        {"mark": {"type": "line", "strokeWidth": 2.5, "clip": true},
         "encoding": {
           "x": {"field": "it", "type": "quantitative", "scale": {"domain": [0, 100], "nice": false, "zero": false}, "axis": {"values": [0,20,40,60,80,100], "title": "Iterations"}},
           "y": {"field": "v", "type": "quantitative", "scale": {"type": "log", "domain": [1e-5, 1.55], "nice": false}, "axis": {"values": [1e-5,1e-4,1e-3,1e-2,1e-1,1], "title": "Cost Difference", "labelExpr": "'10' + replace(replace(replace(replace(replace(replace(replace(toString(round(log(datum.value)/LN10)),'-','⁻'),'0','⁰'),'1','¹'),'2','²'),'3','³'),'4','⁴'),'5','⁵')"}},
           "color": {"field": "m", "type": "nominal", "scale": {"domain": ["VTF-RLBFGS (ISR)", "VTF-RLBFGS (Cholesky)", "RLBFGS"], "range": ["#0000ff", "#ff0000", "#00ff00"]}, "legend": {"title": null}}
         }},
        {"mark": {"type": "line", "opacity": 0, "clip": true},
         "encoding": {
           "x": {"field": "it", "type": "quantitative", "scale": {"domain": [0, 100], "nice": false, "zero": false}, "axis": {"orient": "top", "values": [0,20,40,60,80,100], "labels": false, "domain": false, "title": null}},
           "y": {"field": "v", "type": "quantitative", "scale": {"type": "log", "domain": [1e-5, 1.55], "nice": false}, "axis": {"orient": "right", "values": [1e-5,1e-4,1e-3,1e-2,1e-1,1], "labels": false, "domain": false, "title": null}}
         }}
       ]},
      {"width": 275, "height": 211, "data": {"name": "r4c3"}, "transform": [{"flatten": ["it", "v"]}],
       "resolve": {"axis": {"x": "independent", "y": "independent"}},
       "layer": [
        {"mark": {"type": "line", "strokeWidth": 2.5, "clip": true},
         "encoding": {
           "x": {"field": "it", "type": "quantitative", "scale": {"domain": [0, 60], "nice": false, "zero": false}, "axis": {"values": [0,10,20,30,40,50,60], "title": "Iterations"}},
           "y": {"field": "v", "type": "quantitative", "scale": {"type": "log", "domain": [1e-5, 1], "nice": false}, "axis": {"values": [1e-5,1e-4,1e-3,1e-2,1e-1,1], "title": "Cost Difference", "labelExpr": "'10' + replace(replace(replace(replace(replace(replace(replace(toString(round(log(datum.value)/LN10)),'-','⁻'),'0','⁰'),'1','¹'),'2','²'),'3','³'),'4','⁴'),'5','⁵')"}},
           "color": {"field": "m", "type": "nominal", "scale": {"domain": ["VTF-RLBFGS (ISR)", "VTF-RLBFGS (Cholesky)", "RLBFGS"], "range": ["#0000ff", "#ff0000", "#00ff00"]}, "legend": {"title": null}}
         }},
        {"mark": {"type": "line", "opacity": 0, "clip": true},
         "encoding": {
           "x": {"field": "it", "type": "quantitative", "scale": {"domain": [0, 60], "nice": false, "zero": false}, "axis": {"orient": "top", "values": [0,10,20,30,40,50,60], "labels": false, "domain": false, "title": null}},
           "y": {"field": "v", "type": "quantitative", "scale": {"type": "log", "domain": [1e-5, 1], "nice": false}, "axis": {"orient": "right", "values": [1e-5,1e-4,1e-3,1e-2,1e-1,1], "labels": false, "domain": false, "title": null}}
         }}
       ]}
    ]
  }
]
}
